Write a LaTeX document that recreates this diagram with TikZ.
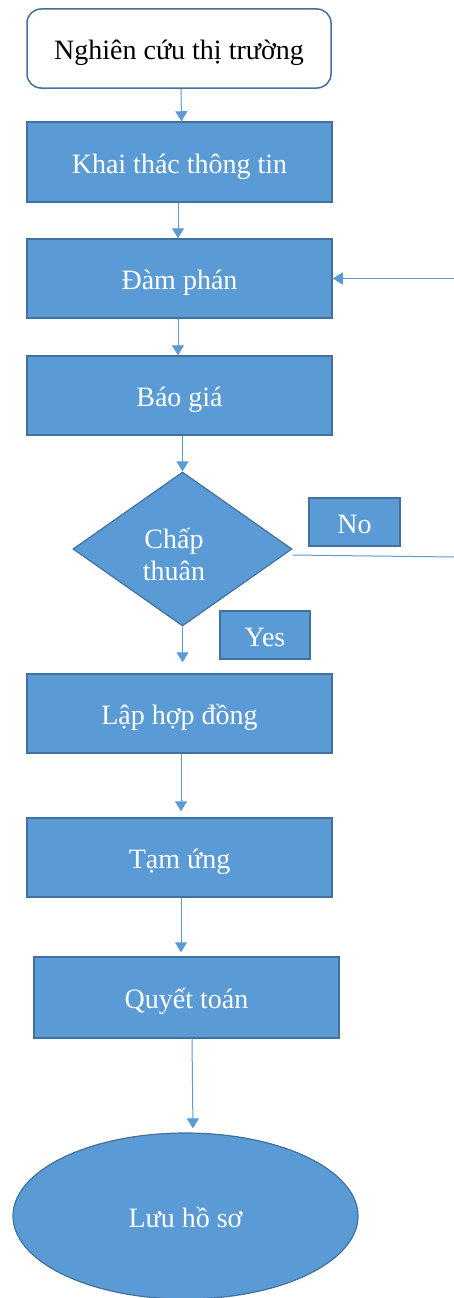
\documentclass[tikz,border=0pt]{standalone}
\usepackage{fontspec}
\setmainfont{Liberation Serif}
\usetikzlibrary{shapes.geometric,arrows.meta}
\definecolor{fillblue}{HTML}{5B9BD5}
\definecolor{edgeblue}{HTML}{41719C}
\definecolor{lineblue}{HTML}{5B9BD5}
\tikzset{
  bluebox/.style={draw=edgeblue,line width=1.5pt,fill=fillblue,text=white,inner sep=0pt,
    font=\fontsize{28}{33}\selectfont,align=center,text height=24pt,text depth=2pt},
  startbox/.style={draw=edgeblue,line width=1.5pt,fill=white,text=black,rounded corners=14pt,
    inner sep=0pt,font=\fontsize{28}{33}\selectfont,text height=24pt,text depth=2pt},
  decide/.style={draw=edgeblue,fill=fillblue,diamond,line width=1.2pt,inner sep=0pt},
  endell/.style={draw=edgeblue,fill=fillblue,text=white,ellipse,line width=1.2pt,inner sep=0pt,
    font=\fontsize{28}{33}\selectfont,text height=24pt,text depth=2pt},
  arr/.style={draw=lineblue,line width=1pt,-{Triangle[width=12pt,length=10pt]}},
  plainline/.style={draw=lineblue,line width=1pt}
}
\begin{document}
\begin{tikzpicture}[x=1pt,y=-1pt]
\useasboundingbox (0,0) rectangle (454,1298);
\node[startbox,minimum width=304pt,minimum height=79pt] (b1) at (179,48.5) {Nghiên cứu thị trường};
\node[bluebox,minimum width=305pt,minimum height=80pt] (b2) at (179.5,162) {Khai thác thông tin};
\node[bluebox,minimum width=305pt,minimum height=79pt] (b3) at (179.5,278.5) {Đàm phán};
\node[bluebox,minimum width=305pt,minimum height=79pt] (b4) at (179.5,395.5) {Báo giá};
\node[decide,minimum width=219pt,minimum height=154pt] (d) at (182.5,549) {};
\node[text=white,font=\fontsize{28}{32}\selectfont,align=center,inner sep=0pt] (dt) at (174,554) {Chấp\\thuân};
\node[bluebox,minimum width=91pt,minimum height=48pt] (no) at (354.5,522) {No};
\node[bluebox,minimum width=90pt,minimum height=48pt] (yes) at (265,635) {Yes};
\node[bluebox,minimum width=305pt,minimum height=79pt] (b5) at (179.5,713.5) {Lập hợp đồng};
\node[bluebox,minimum width=305pt,minimum height=79pt] (b6) at (179.5,857.5) {Tạm ứng};
\node[bluebox,minimum width=305pt,minimum height=81pt] (b7) at (186.5,997.5) {Quyết toán};
\node[endell,minimum width=345pt,minimum height=166pt] (e) at (185.5,1216) {Lưu hồ sơ};
\coordinate (rin) at (454,278.5);
\coordinate (rout) at (454,557);
% connectors
\draw[arr] ([xshift=2pt]b1.south) -- ([xshift=2pt]b2.north);
\draw[arr] ([xshift=-1.5pt]b2.south) -- ([xshift=-1.5pt]b3.north);
\draw[arr] ([xshift=-1.5pt]b3.south) -- ([xshift=-1.5pt]b4.north);
\draw[arr] (b4.south -| d.north) -- (d.north);
\draw[arr,shorten >=11pt] (d.south) -- (d.south |- b5.north);
\draw[arr,shorten >=6pt] ([xshift=1.5pt]b5.south) -- ([xshift=1.5pt]b6.north);
\draw[arr,shorten >=4pt] ([xshift=1.5pt]b6.south) -- ([xshift=1.5pt]b6.south |- b7.north);
\draw[arr,shorten >=4pt] ([xshift=5.5pt]b7.south) -- ([xshift=7.5pt]e.north);
\draw[arr] (rin) -- (b3.east);
\draw[plainline] ([yshift=-6pt]d.east) -- (rout);
\end{tikzpicture}
\end{document}
